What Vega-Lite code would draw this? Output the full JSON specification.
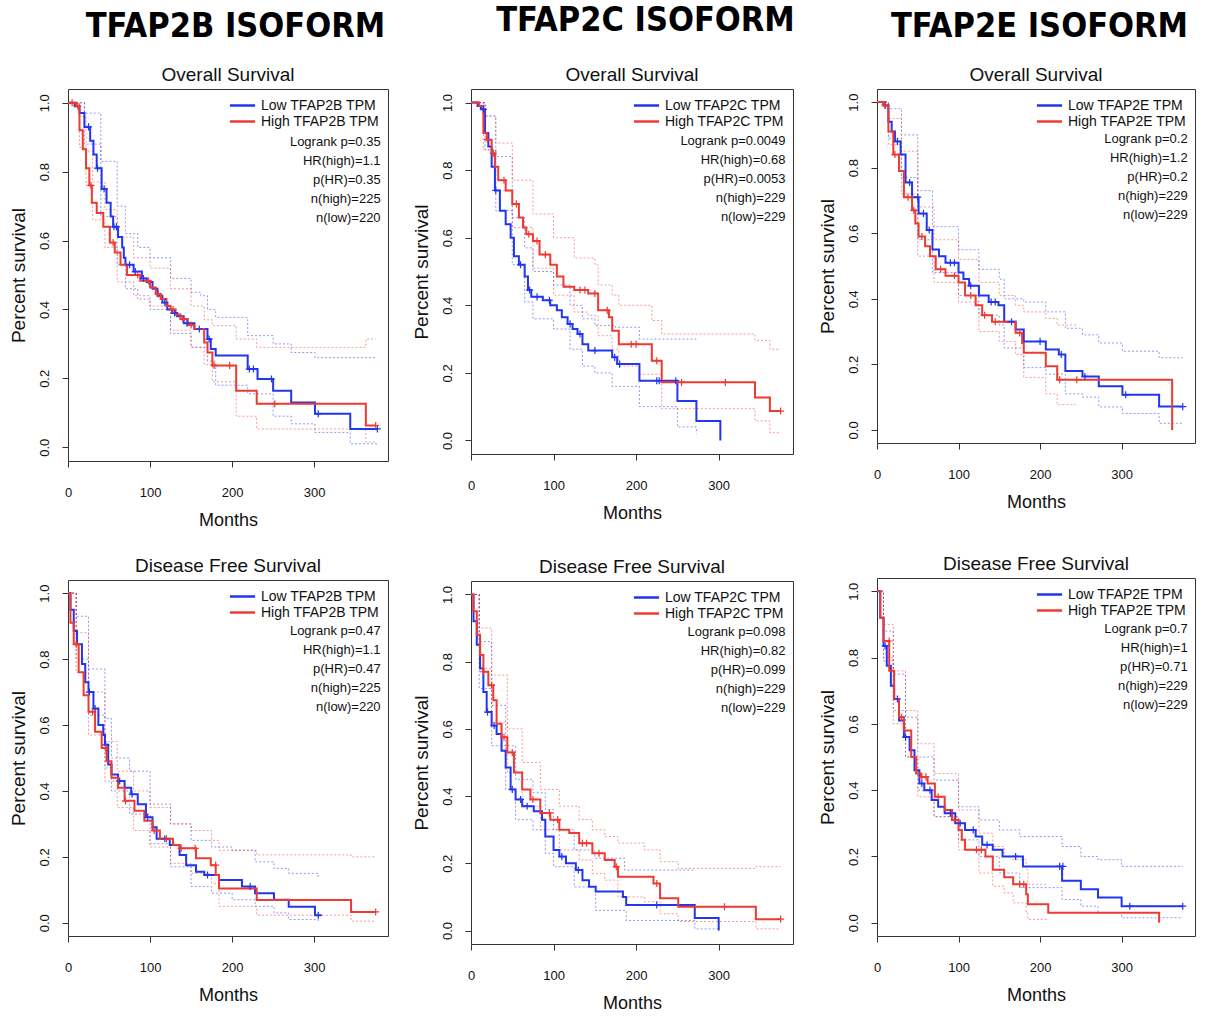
{
"$schema": "https://vega.github.io/schema/vega-lite/v6.json",
"background": "white",
"padding": {"top": 3, "left": 8, "right": 4, "bottom": 2},
"datasets": {
"km": [
{"p":"BO","g":"Low","k":"e","t":0,"s":1},{"p":"BO","g":"Low","k":"e","t":8,"s":0.99},{"p":"BO","g":"Low","k":"e","t":14,"s":0.97},{"p":"BO","g":"Low","k":"e","t":20,"s":0.93},{"p":"BO","g":"Low","k":"e","t":27,"s":0.89},{"p":"BO","g":"Low","k":"e","t":31,"s":0.85},{"p":"BO","g":"Low","k":"e","t":35,"s":0.81},{"p":"BO","g":"Low","k":"e","t":41,"s":0.75},{"p":"BO","g":"Low","k":"e","t":47,"s":0.71},{"p":"BO","g":"Low","k":"e","t":52,"s":0.67},{"p":"BO","g":"Low","k":"e","t":55,"s":0.64},{"p":"BO","g":"Low","k":"e","t":61,"s":0.61},{"p":"BO","g":"Low","k":"e","t":66,"s":0.58},{"p":"BO","g":"Low","k":"e","t":68,"s":0.55},{"p":"BO","g":"Low","k":"e","t":70,"s":0.53},{"p":"BO","g":"Low","k":"e","t":80,"s":0.51},{"p":"BO","g":"Low","k":"e","t":90,"s":0.49},{"p":"BO","g":"Low","k":"e","t":96,"s":0.48},{"p":"BO","g":"Low","k":"e","t":103,"s":0.46},{"p":"BO","g":"Low","k":"e","t":109,"s":0.44},{"p":"BO","g":"Low","k":"e","t":115,"s":0.42},{"p":"BO","g":"Low","k":"e","t":121,"s":0.40},{"p":"BO","g":"Low","k":"e","t":127,"s":0.39},{"p":"BO","g":"Low","k":"e","t":133,"s":0.38},{"p":"BO","g":"Low","k":"e","t":141,"s":0.36},{"p":"BO","g":"Low","k":"e","t":154,"s":0.343},{"p":"BO","g":"Low","k":"e","t":170,"s":0.314},{"p":"BO","g":"Low","k":"e","t":174,"s":0.285},{"p":"BO","g":"Low","k":"e","t":180,"s":0.266},{"p":"BO","g":"Low","k":"e","t":219,"s":0.227},{"p":"BO","g":"Low","k":"e","t":231,"s":0.198},{"p":"BO","g":"Low","k":"e","t":250,"s":0.164},{"p":"BO","g":"Low","k":"e","t":272,"s":0.13},{"p":"BO","g":"Low","k":"e","t":301,"s":0.097},{"p":"BO","g":"Low","k":"e","t":344,"s":0.053},{"p":"BO","g":"Low","k":"e","t":377,"s":0.053},
{"p":"BO","g":"High","k":"e","t":0,"s":1},{"p":"BO","g":"High","k":"e","t":10,"s":0.99},{"p":"BO","g":"High","k":"e","t":14,"s":0.92},{"p":"BO","g":"High","k":"e","t":18,"s":0.865},{"p":"BO","g":"High","k":"e","t":22,"s":0.81},{"p":"BO","g":"High","k":"e","t":26,"s":0.76},{"p":"BO","g":"High","k":"e","t":29,"s":0.71},{"p":"BO","g":"High","k":"e","t":35,"s":0.68},{"p":"BO","g":"High","k":"e","t":43,"s":0.64},{"p":"BO","g":"High","k":"e","t":51,"s":0.594},{"p":"BO","g":"High","k":"e","t":57,"s":0.565},{"p":"BO","g":"High","k":"e","t":64,"s":0.53},{"p":"BO","g":"High","k":"e","t":72,"s":0.50},{"p":"BO","g":"High","k":"e","t":88,"s":0.483},{"p":"BO","g":"High","k":"e","t":100,"s":0.464},{"p":"BO","g":"High","k":"e","t":107,"s":0.445},{"p":"BO","g":"High","k":"e","t":113,"s":0.43},{"p":"BO","g":"High","k":"e","t":120,"s":0.41},{"p":"BO","g":"High","k":"e","t":125,"s":0.40},{"p":"BO","g":"High","k":"e","t":131,"s":0.385},{"p":"BO","g":"High","k":"e","t":137,"s":0.372},{"p":"BO","g":"High","k":"e","t":146,"s":0.355},{"p":"BO","g":"High","k":"e","t":154,"s":0.343},{"p":"BO","g":"High","k":"e","t":166,"s":0.304},{"p":"BO","g":"High","k":"e","t":170,"s":0.275},{"p":"BO","g":"High","k":"e","t":176,"s":0.237},{"p":"BO","g":"High","k":"e","t":205,"s":0.164},{"p":"BO","g":"High","k":"e","t":230,"s":0.126},{"p":"BO","g":"High","k":"e","t":363,"s":0.063},{"p":"BO","g":"High","k":"e","t":375,"s":0.063},
{"p":"BO","g":"Low","k":"u","t":0,"s":1},{"p":"BO","g":"Low","k":"u","t":20,"s":0.97},{"p":"BO","g":"Low","k":"u","t":40,"s":0.83},{"p":"BO","g":"Low","k":"u","t":60,"s":0.70},{"p":"BO","g":"Low","k":"u","t":70,"s":0.62},{"p":"BO","g":"Low","k":"u","t":85,"s":0.58},{"p":"BO","g":"Low","k":"u","t":100,"s":0.55},{"p":"BO","g":"Low","k":"u","t":125,"s":0.49},{"p":"BO","g":"Low","k":"u","t":150,"s":0.45},{"p":"BO","g":"Low","k":"u","t":162,"s":0.44},{"p":"BO","g":"Low","k":"u","t":170,"s":0.40},{"p":"BO","g":"Low","k":"u","t":180,"s":0.377},{"p":"BO","g":"Low","k":"u","t":219,"s":0.324},{"p":"BO","g":"Low","k":"u","t":250,"s":0.30},{"p":"BO","g":"Low","k":"u","t":272,"s":0.275},{"p":"BO","g":"Low","k":"u","t":301,"s":0.26},{"p":"BO","g":"Low","k":"u","t":377,"s":0.26},
{"p":"BO","g":"Low","k":"l","t":0,"s":1},{"p":"BO","g":"Low","k":"l","t":20,"s":0.88},{"p":"BO","g":"Low","k":"l","t":40,"s":0.67},{"p":"BO","g":"Low","k":"l","t":60,"s":0.53},{"p":"BO","g":"Low","k":"l","t":70,"s":0.46},{"p":"BO","g":"Low","k":"l","t":85,"s":0.43},{"p":"BO","g":"Low","k":"l","t":100,"s":0.40},{"p":"BO","g":"Low","k":"l","t":125,"s":0.33},{"p":"BO","g":"Low","k":"l","t":150,"s":0.29},{"p":"BO","g":"Low","k":"l","t":170,"s":0.25},{"p":"BO","g":"Low","k":"l","t":180,"s":0.18},{"p":"BO","g":"Low","k":"l","t":219,"s":0.155},{"p":"BO","g":"Low","k":"l","t":250,"s":0.09},{"p":"BO","g":"Low","k":"l","t":272,"s":0.068},{"p":"BO","g":"Low","k":"l","t":301,"s":0.043},{"p":"BO","g":"Low","k":"l","t":344,"s":0.01},{"p":"BO","g":"Low","k":"l","t":377,"s":0.01},
{"p":"BO","g":"High","k":"u","t":0,"s":1},{"p":"BO","g":"High","k":"u","t":14,"s":0.96},{"p":"BO","g":"High","k":"u","t":22,"s":0.86},{"p":"BO","g":"High","k":"u","t":30,"s":0.77},{"p":"BO","g":"High","k":"u","t":45,"s":0.69},{"p":"BO","g":"High","k":"u","t":60,"s":0.61},{"p":"BO","g":"High","k":"u","t":80,"s":0.55},{"p":"BO","g":"High","k":"u","t":100,"s":0.52},{"p":"BO","g":"High","k":"u","t":125,"s":0.46},{"p":"BO","g":"High","k":"u","t":150,"s":0.41},{"p":"BO","g":"High","k":"u","t":166,"s":0.37},{"p":"BO","g":"High","k":"u","t":176,"s":0.353},{"p":"BO","g":"High","k":"u","t":205,"s":0.314},{"p":"BO","g":"High","k":"u","t":230,"s":0.29},{"p":"BO","g":"High","k":"u","t":363,"s":0.314},{"p":"BO","g":"High","k":"u","t":375,"s":0.314},
{"p":"BO","g":"High","k":"l","t":0,"s":1},{"p":"BO","g":"High","k":"l","t":14,"s":0.87},{"p":"BO","g":"High","k":"l","t":22,"s":0.76},{"p":"BO","g":"High","k":"l","t":30,"s":0.66},{"p":"BO","g":"High","k":"l","t":45,"s":0.58},{"p":"BO","g":"High","k":"l","t":60,"s":0.48},{"p":"BO","g":"High","k":"l","t":80,"s":0.44},{"p":"BO","g":"High","k":"l","t":100,"s":0.41},{"p":"BO","g":"High","k":"l","t":125,"s":0.34},{"p":"BO","g":"High","k":"l","t":150,"s":0.29},{"p":"BO","g":"High","k":"l","t":166,"s":0.24},{"p":"BO","g":"High","k":"l","t":176,"s":0.19},{"p":"BO","g":"High","k":"l","t":205,"s":0.09},{"p":"BO","g":"High","k":"l","t":230,"s":0.053},{"p":"BO","g":"High","k":"l","t":363,"s":0.015},{"p":"BO","g":"High","k":"l","t":375,"s":0.015},

{"p":"CO","g":"Low","k":"e","t":0,"s":1},{"p":"CO","g":"Low","k":"e","t":8,"s":0.99},{"p":"CO","g":"Low","k":"e","t":12,"s":0.98},{"p":"CO","g":"Low","k":"e","t":17,"s":0.91},{"p":"CO","g":"Low","k":"e","t":21,"s":0.87},{"p":"CO","g":"Low","k":"e","t":25,"s":0.81},{"p":"CO","g":"Low","k":"e","t":29,"s":0.74},{"p":"CO","g":"Low","k":"e","t":35,"s":0.68},{"p":"CO","g":"Low","k":"e","t":42,"s":0.64},{"p":"CO","g":"Low","k":"e","t":48,"s":0.60},{"p":"CO","g":"Low","k":"e","t":52,"s":0.545},{"p":"CO","g":"Low","k":"e","t":58,"s":0.52},{"p":"CO","g":"Low","k":"e","t":65,"s":0.485},{"p":"CO","g":"Low","k":"e","t":69,"s":0.445},{"p":"CO","g":"Low","k":"e","t":73,"s":0.425},{"p":"CO","g":"Low","k":"e","t":87,"s":0.415},{"p":"CO","g":"Low","k":"e","t":96,"s":0.40},{"p":"CO","g":"Low","k":"e","t":104,"s":0.385},{"p":"CO","g":"Low","k":"e","t":110,"s":0.365},{"p":"CO","g":"Low","k":"e","t":117,"s":0.345},{"p":"CO","g":"Low","k":"e","t":123,"s":0.33},{"p":"CO","g":"Low","k":"e","t":129,"s":0.315},{"p":"CO","g":"Low","k":"e","t":135,"s":0.285},{"p":"CO","g":"Low","k":"e","t":142,"s":0.266},{"p":"CO","g":"Low","k":"e","t":171,"s":0.246},{"p":"CO","g":"Low","k":"e","t":177,"s":0.226},{"p":"CO","g":"Low","k":"e","t":204,"s":0.177},{"p":"CO","g":"Low","k":"e","t":250,"s":0.117},{"p":"CO","g":"Low","k":"e","t":273,"s":0.058},{"p":"CO","g":"Low","k":"e","t":302,"s":0},
{"p":"CO","g":"High","k":"e","t":0,"s":1},{"p":"CO","g":"High","k":"e","t":10,"s":0.99},{"p":"CO","g":"High","k":"e","t":15,"s":0.91},{"p":"CO","g":"High","k":"e","t":19,"s":0.89},{"p":"CO","g":"High","k":"e","t":25,"s":0.85},{"p":"CO","g":"High","k":"e","t":29,"s":0.81},{"p":"CO","g":"High","k":"e","t":33,"s":0.77},{"p":"CO","g":"High","k":"e","t":42,"s":0.74},{"p":"CO","g":"High","k":"e","t":50,"s":0.70},{"p":"CO","g":"High","k":"e","t":58,"s":0.66},{"p":"CO","g":"High","k":"e","t":63,"s":0.63},{"p":"CO","g":"High","k":"e","t":67,"s":0.61},{"p":"CO","g":"High","k":"e","t":75,"s":0.59},{"p":"CO","g":"High","k":"e","t":83,"s":0.55},{"p":"CO","g":"High","k":"e","t":96,"s":0.52},{"p":"CO","g":"High","k":"e","t":104,"s":0.485},{"p":"CO","g":"High","k":"e","t":112,"s":0.455},{"p":"CO","g":"High","k":"e","t":125,"s":0.445},{"p":"CO","g":"High","k":"e","t":142,"s":0.435},{"p":"CO","g":"High","k":"e","t":154,"s":0.385},{"p":"CO","g":"High","k":"e","t":167,"s":0.365},{"p":"CO","g":"High","k":"e","t":171,"s":0.325},{"p":"CO","g":"High","k":"e","t":179,"s":0.285},{"p":"CO","g":"High","k":"e","t":219,"s":0.236},{"p":"CO","g":"High","k":"e","t":231,"s":0.172},{"p":"CO","g":"High","k":"e","t":344,"s":0.127},{"p":"CO","g":"High","k":"e","t":362,"s":0.087},{"p":"CO","g":"High","k":"e","t":375,"s":0.087},
{"p":"CO","g":"Low","k":"u","t":0,"s":1},{"p":"CO","g":"Low","k":"u","t":17,"s":0.96},{"p":"CO","g":"Low","k":"u","t":30,"s":0.84},{"p":"CO","g":"Low","k":"u","t":50,"s":0.66},{"p":"CO","g":"Low","k":"u","t":65,"s":0.57},{"p":"CO","g":"Low","k":"u","t":75,"s":0.50},{"p":"CO","g":"Low","k":"u","t":100,"s":0.46},{"p":"CO","g":"Low","k":"u","t":120,"s":0.40},{"p":"CO","g":"Low","k":"u","t":135,"s":0.36},{"p":"CO","g":"Low","k":"u","t":150,"s":0.34},{"p":"CO","g":"Low","k":"u","t":175,"s":0.335},{"p":"CO","g":"Low","k":"u","t":204,"s":0.30},{"p":"CO","g":"Low","k":"u","t":273,"s":0.30},
{"p":"CO","g":"Low","k":"l","t":0,"s":1},{"p":"CO","g":"Low","k":"l","t":17,"s":0.86},{"p":"CO","g":"Low","k":"l","t":30,"s":0.68},{"p":"CO","g":"Low","k":"l","t":50,"s":0.52},{"p":"CO","g":"Low","k":"l","t":65,"s":0.41},{"p":"CO","g":"Low","k":"l","t":75,"s":0.36},{"p":"CO","g":"Low","k":"l","t":100,"s":0.33},{"p":"CO","g":"Low","k":"l","t":120,"s":0.27},{"p":"CO","g":"Low","k":"l","t":135,"s":0.22},{"p":"CO","g":"Low","k":"l","t":150,"s":0.20},{"p":"CO","g":"Low","k":"l","t":171,"s":0.16},{"p":"CO","g":"Low","k":"l","t":204,"s":0.10},{"p":"CO","g":"Low","k":"l","t":250,"s":0.04},{"p":"CO","g":"Low","k":"l","t":273,"s":0.02},
{"p":"CO","g":"High","k":"u","t":0,"s":1},{"p":"CO","g":"High","k":"u","t":15,"s":0.96},{"p":"CO","g":"High","k":"u","t":30,"s":0.88},{"p":"CO","g":"High","k":"u","t":50,"s":0.77},{"p":"CO","g":"High","k":"u","t":75,"s":0.67},{"p":"CO","g":"High","k":"u","t":100,"s":0.60},{"p":"CO","g":"High","k":"u","t":125,"s":0.54},{"p":"CO","g":"High","k":"u","t":150,"s":0.52},{"p":"CO","g":"High","k":"u","t":154,"s":0.46},{"p":"CO","g":"High","k":"u","t":171,"s":0.43},{"p":"CO","g":"High","k":"u","t":179,"s":0.40},{"p":"CO","g":"High","k":"u","t":219,"s":0.355},{"p":"CO","g":"High","k":"u","t":231,"s":0.315},{"p":"CO","g":"High","k":"u","t":344,"s":0.296},{"p":"CO","g":"High","k":"u","t":362,"s":0.27},{"p":"CO","g":"High","k":"u","t":375,"s":0.27},
{"p":"CO","g":"High","k":"l","t":0,"s":1},{"p":"CO","g":"High","k":"l","t":15,"s":0.86},{"p":"CO","g":"High","k":"l","t":30,"s":0.74},{"p":"CO","g":"High","k":"l","t":50,"s":0.63},{"p":"CO","g":"High","k":"l","t":75,"s":0.51},{"p":"CO","g":"High","k":"l","t":100,"s":0.43},{"p":"CO","g":"High","k":"l","t":125,"s":0.38},{"p":"CO","g":"High","k":"l","t":142,"s":0.37},{"p":"CO","g":"High","k":"l","t":154,"s":0.31},{"p":"CO","g":"High","k":"l","t":171,"s":0.27},{"p":"CO","g":"High","k":"l","t":179,"s":0.22},{"p":"CO","g":"High","k":"l","t":204,"s":0.196},{"p":"CO","g":"High","k":"l","t":231,"s":0.094},{"p":"CO","g":"High","k":"l","t":344,"s":0.058},{"p":"CO","g":"High","k":"l","t":362,"s":0.023},{"p":"CO","g":"High","k":"l","t":375,"s":0.023},

{"p":"EO","g":"Low","k":"e","t":0,"s":1},{"p":"EO","g":"Low","k":"e","t":8,"s":0.99},{"p":"EO","g":"Low","k":"e","t":14,"s":0.94},{"p":"EO","g":"Low","k":"e","t":18,"s":0.91},{"p":"EO","g":"Low","k":"e","t":22,"s":0.88},{"p":"EO","g":"Low","k":"e","t":29,"s":0.84},{"p":"EO","g":"Low","k":"e","t":35,"s":0.755},{"p":"EO","g":"Low","k":"e","t":43,"s":0.71},{"p":"EO","g":"Low","k":"e","t":51,"s":0.66},{"p":"EO","g":"Low","k":"e","t":61,"s":0.61},{"p":"EO","g":"Low","k":"e","t":68,"s":0.55},{"p":"EO","g":"Low","k":"e","t":76,"s":0.53},{"p":"EO","g":"Low","k":"e","t":84,"s":0.51},{"p":"EO","g":"Low","k":"e","t":100,"s":0.48},{"p":"EO","g":"Low","k":"e","t":106,"s":0.46},{"p":"EO","g":"Low","k":"e","t":113,"s":0.44},{"p":"EO","g":"Low","k":"e","t":125,"s":0.41},{"p":"EO","g":"Low","k":"e","t":137,"s":0.39},{"p":"EO","g":"Low","k":"e","t":149,"s":0.38},{"p":"EO","g":"Low","k":"e","t":156,"s":0.33},{"p":"EO","g":"Low","k":"e","t":170,"s":0.306},{"p":"EO","g":"Low","k":"e","t":180,"s":0.27},{"p":"EO","g":"Low","k":"e","t":207,"s":0.245},{"p":"EO","g":"Low","k":"e","t":223,"s":0.23},{"p":"EO","g":"Low","k":"e","t":231,"s":0.18},{"p":"EO","g":"Low","k":"e","t":252,"s":0.163},{"p":"EO","g":"Low","k":"e","t":272,"s":0.133},{"p":"EO","g":"Low","k":"e","t":301,"s":0.107},{"p":"EO","g":"Low","k":"e","t":346,"s":0.071},{"p":"EO","g":"Low","k":"e","t":375,"s":0.071},
{"p":"EO","g":"High","k":"e","t":0,"s":1},{"p":"EO","g":"High","k":"e","t":8,"s":0.99},{"p":"EO","g":"High","k":"e","t":14,"s":0.91},{"p":"EO","g":"High","k":"e","t":20,"s":0.84},{"p":"EO","g":"High","k":"e","t":27,"s":0.79},{"p":"EO","g":"High","k":"e","t":33,"s":0.71},{"p":"EO","g":"High","k":"e","t":43,"s":0.67},{"p":"EO","g":"High","k":"e","t":47,"s":0.63},{"p":"EO","g":"High","k":"e","t":51,"s":0.59},{"p":"EO","g":"High","k":"e","t":59,"s":0.56},{"p":"EO","g":"High","k":"e","t":65,"s":0.53},{"p":"EO","g":"High","k":"e","t":72,"s":0.49},{"p":"EO","g":"High","k":"e","t":84,"s":0.47},{"p":"EO","g":"High","k":"e","t":100,"s":0.45},{"p":"EO","g":"High","k":"e","t":108,"s":0.41},{"p":"EO","g":"High","k":"e","t":121,"s":0.38},{"p":"EO","g":"High","k":"e","t":129,"s":0.35},{"p":"EO","g":"High","k":"e","t":141,"s":0.33},{"p":"EO","g":"High","k":"e","t":170,"s":0.296},{"p":"EO","g":"High","k":"e","t":178,"s":0.265},{"p":"EO","g":"High","k":"e","t":180,"s":0.235},{"p":"EO","g":"High","k":"e","t":207,"s":0.194},{"p":"EO","g":"High","k":"e","t":221,"s":0.153},{"p":"EO","g":"High","k":"e","t":362,"s":0},
{"p":"EO","g":"Low","k":"u","t":0,"s":1},{"p":"EO","g":"Low","k":"u","t":14,"s":0.98},{"p":"EO","g":"Low","k":"u","t":30,"s":0.90},{"p":"EO","g":"Low","k":"u","t":50,"s":0.73},{"p":"EO","g":"Low","k":"u","t":68,"s":0.62},{"p":"EO","g":"Low","k":"u","t":100,"s":0.55},{"p":"EO","g":"Low","k":"u","t":125,"s":0.49},{"p":"EO","g":"Low","k":"u","t":150,"s":0.46},{"p":"EO","g":"Low","k":"u","t":156,"s":0.40},{"p":"EO","g":"Low","k":"u","t":180,"s":0.39},{"p":"EO","g":"Low","k":"u","t":207,"s":0.36},{"p":"EO","g":"Low","k":"u","t":231,"s":0.31},{"p":"EO","g":"Low","k":"u","t":252,"s":0.29},{"p":"EO","g":"Low","k":"u","t":272,"s":0.265},{"p":"EO","g":"Low","k":"u","t":301,"s":0.24},{"p":"EO","g":"Low","k":"u","t":346,"s":0.22},{"p":"EO","g":"Low","k":"u","t":375,"s":0.22},
{"p":"EO","g":"Low","k":"l","t":0,"s":1},{"p":"EO","g":"Low","k":"l","t":14,"s":0.89},{"p":"EO","g":"Low","k":"l","t":30,"s":0.77},{"p":"EO","g":"Low","k":"l","t":50,"s":0.58},{"p":"EO","g":"Low","k":"l","t":68,"s":0.48},{"p":"EO","g":"Low","k":"l","t":100,"s":0.41},{"p":"EO","g":"Low","k":"l","t":125,"s":0.35},{"p":"EO","g":"Low","k":"l","t":150,"s":0.32},{"p":"EO","g":"Low","k":"l","t":156,"s":0.25},{"p":"EO","g":"Low","k":"l","t":180,"s":0.19},{"p":"EO","g":"Low","k":"l","t":207,"s":0.17},{"p":"EO","g":"Low","k":"l","t":231,"s":0.11},{"p":"EO","g":"Low","k":"l","t":252,"s":0.10},{"p":"EO","g":"Low","k":"l","t":272,"s":0.07},{"p":"EO","g":"Low","k":"l","t":301,"s":0.05},{"p":"EO","g":"Low","k":"l","t":346,"s":0.02},{"p":"EO","g":"Low","k":"l","t":375,"s":0.02},
{"p":"EO","g":"High","k":"u","t":0,"s":1},{"p":"EO","g":"High","k":"u","t":14,"s":0.95},{"p":"EO","g":"High","k":"u","t":30,"s":0.85},{"p":"EO","g":"High","k":"u","t":50,"s":0.68},{"p":"EO","g":"High","k":"u","t":70,"s":0.58},{"p":"EO","g":"High","k":"u","t":100,"s":0.52},{"p":"EO","g":"High","k":"u","t":125,"s":0.45},{"p":"EO","g":"High","k":"u","t":150,"s":0.41},{"p":"EO","g":"High","k":"u","t":170,"s":0.38},{"p":"EO","g":"High","k":"u","t":180,"s":0.36},{"p":"EO","g":"High","k":"u","t":207,"s":0.34},{"p":"EO","g":"High","k":"u","t":221,"s":0.32},{"p":"EO","g":"High","k":"u","t":244,"s":0.32},
{"p":"EO","g":"High","k":"l","t":0,"s":1},{"p":"EO","g":"High","k":"l","t":14,"s":0.87},{"p":"EO","g":"High","k":"l","t":30,"s":0.72},{"p":"EO","g":"High","k":"l","t":50,"s":0.53},{"p":"EO","g":"High","k":"l","t":70,"s":0.45},{"p":"EO","g":"High","k":"l","t":100,"s":0.39},{"p":"EO","g":"High","k":"l","t":125,"s":0.30},{"p":"EO","g":"High","k":"l","t":150,"s":0.27},{"p":"EO","g":"High","k":"l","t":170,"s":0.23},{"p":"EO","g":"High","k":"l","t":180,"s":0.16},{"p":"EO","g":"High","k":"l","t":207,"s":0.11},{"p":"EO","g":"High","k":"l","t":221,"s":0.077},{"p":"EO","g":"High","k":"l","t":244,"s":0.077},

{"p":"BD","g":"Low","k":"e","t":0,"s":1},{"p":"BD","g":"Low","k":"e","t":3,"s":0.95},{"p":"BD","g":"Low","k":"e","t":7,"s":0.885},{"p":"BD","g":"Low","k":"e","t":11,"s":0.845},{"p":"BD","g":"Low","k":"e","t":17,"s":0.785},{"p":"BD","g":"Low","k":"e","t":21,"s":0.73},{"p":"BD","g":"Low","k":"e","t":25,"s":0.70},{"p":"BD","g":"Low","k":"e","t":31,"s":0.65},{"p":"BD","g":"Low","k":"e","t":37,"s":0.60},{"p":"BD","g":"Low","k":"e","t":43,"s":0.57},{"p":"BD","g":"Low","k":"e","t":45,"s":0.54},{"p":"BD","g":"Low","k":"e","t":49,"s":0.48},{"p":"BD","g":"Low","k":"e","t":53,"s":0.45},{"p":"BD","g":"Low","k":"e","t":61,"s":0.43},{"p":"BD","g":"Low","k":"e","t":69,"s":0.41},{"p":"BD","g":"Low","k":"e","t":77,"s":0.39},{"p":"BD","g":"Low","k":"e","t":85,"s":0.36},{"p":"BD","g":"Low","k":"e","t":95,"s":0.32},{"p":"BD","g":"Low","k":"e","t":103,"s":0.29},{"p":"BD","g":"Low","k":"e","t":108,"s":0.255},{"p":"BD","g":"Low","k":"e","t":124,"s":0.236},{"p":"BD","g":"Low","k":"e","t":136,"s":0.206},{"p":"BD","g":"Low","k":"e","t":144,"s":0.175},{"p":"BD","g":"Low","k":"e","t":156,"s":0.155},{"p":"BD","g":"Low","k":"e","t":166,"s":0.145},{"p":"BD","g":"Low","k":"e","t":184,"s":0.13},{"p":"BD","g":"Low","k":"e","t":212,"s":0.11},{"p":"BD","g":"Low","k":"e","t":228,"s":0.09},{"p":"BD","g":"Low","k":"e","t":251,"s":0.07},{"p":"BD","g":"Low","k":"e","t":269,"s":0.049},{"p":"BD","g":"Low","k":"e","t":301,"s":0.023},{"p":"BD","g":"Low","k":"e","t":309,"s":0.023},
{"p":"BD","g":"High","k":"e","t":0,"s":1},{"p":"BD","g":"High","k":"e","t":3,"s":0.91},{"p":"BD","g":"High","k":"e","t":7,"s":0.845},{"p":"BD","g":"High","k":"e","t":13,"s":0.76},{"p":"BD","g":"High","k":"e","t":19,"s":0.69},{"p":"BD","g":"High","k":"e","t":25,"s":0.64},{"p":"BD","g":"High","k":"e","t":33,"s":0.58},{"p":"BD","g":"High","k":"e","t":41,"s":0.53},{"p":"BD","g":"High","k":"e","t":47,"s":0.49},{"p":"BD","g":"High","k":"e","t":53,"s":0.44},{"p":"BD","g":"High","k":"e","t":61,"s":0.41},{"p":"BD","g":"High","k":"e","t":69,"s":0.37},{"p":"BD","g":"High","k":"e","t":81,"s":0.34},{"p":"BD","g":"High","k":"e","t":93,"s":0.31},{"p":"BD","g":"High","k":"e","t":103,"s":0.28},{"p":"BD","g":"High","k":"e","t":112,"s":0.255},{"p":"BD","g":"High","k":"e","t":128,"s":0.236},{"p":"BD","g":"High","k":"e","t":136,"s":0.226},{"p":"BD","g":"High","k":"e","t":156,"s":0.196},{"p":"BD","g":"High","k":"e","t":174,"s":0.175},{"p":"BD","g":"High","k":"e","t":180,"s":0.145},{"p":"BD","g":"High","k":"e","t":184,"s":0.104},{"p":"BD","g":"High","k":"e","t":230,"s":0.069},{"p":"BD","g":"High","k":"e","t":345,"s":0.033},{"p":"BD","g":"High","k":"e","t":375,"s":0.033},
{"p":"BD","g":"Low","k":"u","t":0,"s":1},{"p":"BD","g":"Low","k":"u","t":10,"s":0.93},{"p":"BD","g":"Low","k":"u","t":25,"s":0.77},{"p":"BD","g":"Low","k":"u","t":45,"s":0.62},{"p":"BD","g":"Low","k":"u","t":53,"s":0.50},{"p":"BD","g":"Low","k":"u","t":75,"s":0.46},{"p":"BD","g":"Low","k":"u","t":100,"s":0.36},{"p":"BD","g":"Low","k":"u","t":125,"s":0.30},{"p":"BD","g":"Low","k":"u","t":150,"s":0.25},{"p":"BD","g":"Low","k":"u","t":175,"s":0.23},{"p":"BD","g":"Low","k":"u","t":200,"s":0.22},{"p":"BD","g":"Low","k":"u","t":228,"s":0.185},{"p":"BD","g":"Low","k":"u","t":251,"s":0.165},{"p":"BD","g":"Low","k":"u","t":269,"s":0.15},{"p":"BD","g":"Low","k":"u","t":305,"s":0.14},
{"p":"BD","g":"Low","k":"l","t":0,"s":1},{"p":"BD","g":"Low","k":"l","t":10,"s":0.80},{"p":"BD","g":"Low","k":"l","t":25,"s":0.63},{"p":"BD","g":"Low","k":"l","t":45,"s":0.47},{"p":"BD","g":"Low","k":"l","t":53,"s":0.40},{"p":"BD","g":"Low","k":"l","t":75,"s":0.33},{"p":"BD","g":"Low","k":"l","t":100,"s":0.24},{"p":"BD","g":"Low","k":"l","t":125,"s":0.17},{"p":"BD","g":"Low","k":"l","t":150,"s":0.11},{"p":"BD","g":"Low","k":"l","t":175,"s":0.09},{"p":"BD","g":"Low","k":"l","t":200,"s":0.07},{"p":"BD","g":"Low","k":"l","t":228,"s":0.05},{"p":"BD","g":"Low","k":"l","t":251,"s":0.03},{"p":"BD","g":"Low","k":"l","t":269,"s":0.01},{"p":"BD","g":"Low","k":"l","t":305,"s":0.005},
{"p":"BD","g":"High","k":"u","t":0,"s":1},{"p":"BD","g":"High","k":"u","t":10,"s":0.88},{"p":"BD","g":"High","k":"u","t":25,"s":0.70},{"p":"BD","g":"High","k":"u","t":45,"s":0.55},{"p":"BD","g":"High","k":"u","t":60,"s":0.46},{"p":"BD","g":"High","k":"u","t":80,"s":0.40},{"p":"BD","g":"High","k":"u","t":100,"s":0.35},{"p":"BD","g":"High","k":"u","t":125,"s":0.30},{"p":"BD","g":"High","k":"u","t":150,"s":0.28},{"p":"BD","g":"High","k":"u","t":175,"s":0.25},{"p":"BD","g":"High","k":"u","t":184,"s":0.22},{"p":"BD","g":"High","k":"u","t":230,"s":0.206},{"p":"BD","g":"High","k":"u","t":345,"s":0.20},{"p":"BD","g":"High","k":"u","t":375,"s":0.20},
{"p":"BD","g":"High","k":"l","t":0,"s":1},{"p":"BD","g":"High","k":"l","t":10,"s":0.76},{"p":"BD","g":"High","k":"l","t":25,"s":0.57},{"p":"BD","g":"High","k":"l","t":45,"s":0.43},{"p":"BD","g":"High","k":"l","t":60,"s":0.35},{"p":"BD","g":"High","k":"l","t":80,"s":0.28},{"p":"BD","g":"High","k":"l","t":100,"s":0.23},{"p":"BD","g":"High","k":"l","t":125,"s":0.18},{"p":"BD","g":"High","k":"l","t":150,"s":0.15},{"p":"BD","g":"High","k":"l","t":175,"s":0.12},{"p":"BD","g":"High","k":"l","t":184,"s":0.05},{"p":"BD","g":"High","k":"l","t":230,"s":0.023},{"p":"BD","g":"High","k":"l","t":345,"s":0.005},{"p":"BD","g":"High","k":"l","t":375,"s":0.005},

{"p":"CD","g":"Low","k":"e","t":0,"s":1},{"p":"CD","g":"Low","k":"e","t":3,"s":0.92},{"p":"CD","g":"Low","k":"e","t":7,"s":0.85},{"p":"CD","g":"Low","k":"e","t":11,"s":0.78},{"p":"CD","g":"Low","k":"e","t":15,"s":0.71},{"p":"CD","g":"Low","k":"e","t":19,"s":0.65},{"p":"CD","g":"Low","k":"e","t":25,"s":0.61},{"p":"CD","g":"Low","k":"e","t":31,"s":0.585},{"p":"CD","g":"Low","k":"e","t":37,"s":0.535},{"p":"CD","g":"Low","k":"e","t":42,"s":0.485},{"p":"CD","g":"Low","k":"e","t":48,"s":0.42},{"p":"CD","g":"Low","k":"e","t":54,"s":0.39},{"p":"CD","g":"Low","k":"e","t":62,"s":0.37},{"p":"CD","g":"Low","k":"e","t":76,"s":0.355},{"p":"CD","g":"Low","k":"e","t":86,"s":0.33},{"p":"CD","g":"Low","k":"e","t":90,"s":0.28},{"p":"CD","g":"Low","k":"e","t":100,"s":0.24},{"p":"CD","g":"Low","k":"e","t":107,"s":0.22},{"p":"CD","g":"Low","k":"e","t":115,"s":0.20},{"p":"CD","g":"Low","k":"e","t":127,"s":0.18},{"p":"CD","g":"Low","k":"e","t":135,"s":0.15},{"p":"CD","g":"Low","k":"e","t":143,"s":0.13},{"p":"CD","g":"Low","k":"e","t":151,"s":0.116},{"p":"CD","g":"Low","k":"e","t":184,"s":0.10},{"p":"CD","g":"Low","k":"e","t":188,"s":0.076},{"p":"CD","g":"Low","k":"e","t":271,"s":0.037},{"p":"CD","g":"Low","k":"e","t":300,"s":0},
{"p":"CD","g":"High","k":"e","t":0,"s":1},{"p":"CD","g":"High","k":"e","t":3,"s":0.95},{"p":"CD","g":"High","k":"e","t":7,"s":0.88},{"p":"CD","g":"High","k":"e","t":11,"s":0.82},{"p":"CD","g":"High","k":"e","t":15,"s":0.77},{"p":"CD","g":"High","k":"e","t":21,"s":0.73},{"p":"CD","g":"High","k":"e","t":27,"s":0.685},{"p":"CD","g":"High","k":"e","t":31,"s":0.615},{"p":"CD","g":"High","k":"e","t":37,"s":0.575},{"p":"CD","g":"High","k":"e","t":44,"s":0.53},{"p":"CD","g":"High","k":"e","t":52,"s":0.47},{"p":"CD","g":"High","k":"e","t":62,"s":0.42},{"p":"CD","g":"High","k":"e","t":72,"s":0.39},{"p":"CD","g":"High","k":"e","t":84,"s":0.35},{"p":"CD","g":"High","k":"e","t":96,"s":0.33},{"p":"CD","g":"High","k":"e","t":107,"s":0.30},{"p":"CD","g":"High","k":"e","t":119,"s":0.29},{"p":"CD","g":"High","k":"e","t":131,"s":0.26},{"p":"CD","g":"High","k":"e","t":147,"s":0.23},{"p":"CD","g":"High","k":"e","t":162,"s":0.21},{"p":"CD","g":"High","k":"e","t":174,"s":0.19},{"p":"CD","g":"High","k":"e","t":178,"s":0.16},{"p":"CD","g":"High","k":"e","t":221,"s":0.14},{"p":"CD","g":"High","k":"e","t":229,"s":0.096},{"p":"CD","g":"High","k":"e","t":251,"s":0.071},{"p":"CD","g":"High","k":"e","t":345,"s":0.034},{"p":"CD","g":"High","k":"e","t":375,"s":0.034},
{"p":"CD","g":"Low","k":"u","t":0,"s":1},{"p":"CD","g":"Low","k":"u","t":10,"s":0.86},{"p":"CD","g":"Low","k":"u","t":25,"s":0.67},{"p":"CD","g":"Low","k":"u","t":42,"s":0.55},{"p":"CD","g":"Low","k":"u","t":54,"s":0.45},{"p":"CD","g":"Low","k":"u","t":75,"s":0.41},{"p":"CD","g":"Low","k":"u","t":90,"s":0.36},{"p":"CD","g":"Low","k":"u","t":100,"s":0.30},{"p":"CD","g":"Low","k":"u","t":125,"s":0.24},{"p":"CD","g":"Low","k":"u","t":150,"s":0.215},{"p":"CD","g":"Low","k":"u","t":186,"s":0.18},{"p":"CD","g":"Low","k":"u","t":271,"s":0.18},
{"p":"CD","g":"Low","k":"l","t":0,"s":1},{"p":"CD","g":"Low","k":"l","t":10,"s":0.72},{"p":"CD","g":"Low","k":"l","t":25,"s":0.55},{"p":"CD","g":"Low","k":"l","t":42,"s":0.42},{"p":"CD","g":"Low","k":"l","t":54,"s":0.33},{"p":"CD","g":"Low","k":"l","t":75,"s":0.30},{"p":"CD","g":"Low","k":"l","t":90,"s":0.23},{"p":"CD","g":"Low","k":"l","t":100,"s":0.19},{"p":"CD","g":"Low","k":"l","t":125,"s":0.13},{"p":"CD","g":"Low","k":"l","t":151,"s":0.06},{"p":"CD","g":"Low","k":"l","t":188,"s":0.03},{"p":"CD","g":"Low","k":"l","t":271,"s":0.005},{"p":"CD","g":"Low","k":"l","t":300,"s":0.005},
{"p":"CD","g":"High","k":"u","t":0,"s":1},{"p":"CD","g":"High","k":"u","t":10,"s":0.90},{"p":"CD","g":"High","k":"u","t":25,"s":0.76},{"p":"CD","g":"High","k":"u","t":44,"s":0.60},{"p":"CD","g":"High","k":"u","t":62,"s":0.50},{"p":"CD","g":"High","k":"u","t":84,"s":0.42},{"p":"CD","g":"High","k":"u","t":107,"s":0.37},{"p":"CD","g":"High","k":"u","t":131,"s":0.33},{"p":"CD","g":"High","k":"u","t":147,"s":0.30},{"p":"CD","g":"High","k":"u","t":162,"s":0.28},{"p":"CD","g":"High","k":"u","t":178,"s":0.26},{"p":"CD","g":"High","k":"u","t":210,"s":0.24},{"p":"CD","g":"High","k":"u","t":229,"s":0.205},{"p":"CD","g":"High","k":"u","t":251,"s":0.185},{"p":"CD","g":"High","k":"u","t":345,"s":0.19},{"p":"CD","g":"High","k":"u","t":375,"s":0.19},
{"p":"CD","g":"High","k":"l","t":0,"s":1},{"p":"CD","g":"High","k":"l","t":10,"s":0.78},{"p":"CD","g":"High","k":"l","t":25,"s":0.62},{"p":"CD","g":"High","k":"l","t":44,"s":0.47},{"p":"CD","g":"High","k":"l","t":62,"s":0.37},{"p":"CD","g":"High","k":"l","t":84,"s":0.30},{"p":"CD","g":"High","k":"l","t":107,"s":0.24},{"p":"CD","g":"High","k":"l","t":131,"s":0.21},{"p":"CD","g":"High","k":"l","t":147,"s":0.17},{"p":"CD","g":"High","k":"l","t":162,"s":0.15},{"p":"CD","g":"High","k":"l","t":178,"s":0.10},{"p":"CD","g":"High","k":"l","t":210,"s":0.086},{"p":"CD","g":"High","k":"l","t":229,"s":0.05},{"p":"CD","g":"High","k":"l","t":251,"s":0.027},{"p":"CD","g":"High","k":"l","t":345,"s":0.005},{"p":"CD","g":"High","k":"l","t":375,"s":0.005},

{"p":"ED","g":"Low","k":"e","t":0,"s":1},{"p":"ED","g":"Low","k":"e","t":4,"s":0.92},{"p":"ED","g":"Low","k":"e","t":8,"s":0.835},{"p":"ED","g":"Low","k":"e","t":12,"s":0.775},{"p":"ED","g":"Low","k":"e","t":17,"s":0.715},{"p":"ED","g":"Low","k":"e","t":21,"s":0.675},{"p":"ED","g":"Low","k":"e","t":27,"s":0.61},{"p":"ED","g":"Low","k":"e","t":33,"s":0.56},{"p":"ED","g":"Low","k":"e","t":40,"s":0.52},{"p":"ED","g":"Low","k":"e","t":46,"s":0.46},{"p":"ED","g":"Low","k":"e","t":52,"s":0.42},{"p":"ED","g":"Low","k":"e","t":58,"s":0.40},{"p":"ED","g":"Low","k":"e","t":67,"s":0.37},{"p":"ED","g":"Low","k":"e","t":75,"s":0.35},{"p":"ED","g":"Low","k":"e","t":83,"s":0.33},{"p":"ED","g":"Low","k":"e","t":96,"s":0.30},{"p":"ED","g":"Low","k":"e","t":108,"s":0.28},{"p":"ED","g":"Low","k":"e","t":121,"s":0.26},{"p":"ED","g":"Low","k":"e","t":129,"s":0.235},{"p":"ED","g":"Low","k":"e","t":142,"s":0.22},{"p":"ED","g":"Low","k":"e","t":154,"s":0.20},{"p":"ED","g":"Low","k":"e","t":179,"s":0.17},{"p":"ED","g":"Low","k":"e","t":227,"s":0.127},{"p":"ED","g":"Low","k":"e","t":250,"s":0.101},{"p":"ED","g":"Low","k":"e","t":271,"s":0.076},{"p":"ED","g":"Low","k":"e","t":300,"s":0.05},{"p":"ED","g":"Low","k":"e","t":375,"s":0.05},
{"p":"ED","g":"High","k":"e","t":0,"s":1},{"p":"ED","g":"High","k":"e","t":4,"s":0.92},{"p":"ED","g":"High","k":"e","t":8,"s":0.85},{"p":"ED","g":"High","k":"e","t":15,"s":0.76},{"p":"ED","g":"High","k":"e","t":21,"s":0.675},{"p":"ED","g":"High","k":"e","t":27,"s":0.62},{"p":"ED","g":"High","k":"e","t":33,"s":0.58},{"p":"ED","g":"High","k":"e","t":42,"s":0.50},{"p":"ED","g":"High","k":"e","t":48,"s":0.45},{"p":"ED","g":"High","k":"e","t":54,"s":0.44},{"p":"ED","g":"High","k":"e","t":62,"s":0.42},{"p":"ED","g":"High","k":"e","t":71,"s":0.38},{"p":"ED","g":"High","k":"e","t":83,"s":0.34},{"p":"ED","g":"High","k":"e","t":92,"s":0.31},{"p":"ED","g":"High","k":"e","t":100,"s":0.28},{"p":"ED","g":"High","k":"e","t":104,"s":0.25},{"p":"ED","g":"High","k":"e","t":108,"s":0.22},{"p":"ED","g":"High","k":"e","t":133,"s":0.20},{"p":"ED","g":"High","k":"e","t":142,"s":0.16},{"p":"ED","g":"High","k":"e","t":156,"s":0.137},{"p":"ED","g":"High","k":"e","t":167,"s":0.116},{"p":"ED","g":"High","k":"e","t":183,"s":0.086},{"p":"ED","g":"High","k":"e","t":185,"s":0.056},{"p":"ED","g":"High","k":"e","t":210,"s":0.03},{"p":"ED","g":"High","k":"e","t":346,"s":0},
{"p":"ED","g":"Low","k":"u","t":0,"s":1},{"p":"ED","g":"Low","k":"u","t":8,"s":0.88},{"p":"ED","g":"Low","k":"u","t":20,"s":0.75},{"p":"ED","g":"Low","k":"u","t":35,"s":0.62},{"p":"ED","g":"Low","k":"u","t":50,"s":0.50},{"p":"ED","g":"Low","k":"u","t":70,"s":0.43},{"p":"ED","g":"Low","k":"u","t":100,"s":0.35},{"p":"ED","g":"Low","k":"u","t":125,"s":0.31},{"p":"ED","g":"Low","k":"u","t":150,"s":0.28},{"p":"ED","g":"Low","k":"u","t":175,"s":0.26},{"p":"ED","g":"Low","k":"u","t":227,"s":0.23},{"p":"ED","g":"Low","k":"u","t":250,"s":0.20},{"p":"ED","g":"Low","k":"u","t":271,"s":0.19},{"p":"ED","g":"Low","k":"u","t":300,"s":0.17},{"p":"ED","g":"Low","k":"u","t":375,"s":0.17},
{"p":"ED","g":"Low","k":"l","t":0,"s":1},{"p":"ED","g":"Low","k":"l","t":8,"s":0.79},{"p":"ED","g":"Low","k":"l","t":20,"s":0.64},{"p":"ED","g":"Low","k":"l","t":35,"s":0.50},{"p":"ED","g":"Low","k":"l","t":50,"s":0.40},{"p":"ED","g":"Low","k":"l","t":70,"s":0.32},{"p":"ED","g":"Low","k":"l","t":100,"s":0.25},{"p":"ED","g":"Low","k":"l","t":125,"s":0.20},{"p":"ED","g":"Low","k":"l","t":150,"s":0.15},{"p":"ED","g":"Low","k":"l","t":175,"s":0.106},{"p":"ED","g":"Low","k":"l","t":227,"s":0.07},{"p":"ED","g":"Low","k":"l","t":250,"s":0.05},{"p":"ED","g":"Low","k":"l","t":271,"s":0.03},{"p":"ED","g":"Low","k":"l","t":300,"s":0.015},{"p":"ED","g":"Low","k":"l","t":375,"s":0.015},
{"p":"ED","g":"High","k":"u","t":0,"s":1},{"p":"ED","g":"High","k":"u","t":8,"s":0.90},{"p":"ED","g":"High","k":"u","t":20,"s":0.76},{"p":"ED","g":"High","k":"u","t":35,"s":0.64},{"p":"ED","g":"High","k":"u","t":50,"s":0.54},{"p":"ED","g":"High","k":"u","t":70,"s":0.45},{"p":"ED","g":"High","k":"u","t":100,"s":0.34},{"p":"ED","g":"High","k":"u","t":125,"s":0.27},{"p":"ED","g":"High","k":"u","t":142,"s":0.23},{"p":"ED","g":"High","k":"u","t":156,"s":0.20},{"p":"ED","g":"High","k":"u","t":167,"s":0.19},{"p":"ED","g":"High","k":"u","t":183,"s":0.16},{"p":"ED","g":"High","k":"u","t":185,"s":0.116},{"p":"ED","g":"High","k":"u","t":210,"s":0.116},
{"p":"ED","g":"High","k":"l","t":0,"s":1},{"p":"ED","g":"High","k":"l","t":8,"s":0.80},{"p":"ED","g":"High","k":"l","t":20,"s":0.60},{"p":"ED","g":"High","k":"l","t":35,"s":0.50},{"p":"ED","g":"High","k":"l","t":50,"s":0.38},{"p":"ED","g":"High","k":"l","t":70,"s":0.32},{"p":"ED","g":"High","k":"l","t":100,"s":0.22},{"p":"ED","g":"High","k":"l","t":125,"s":0.15},{"p":"ED","g":"High","k":"l","t":142,"s":0.11},{"p":"ED","g":"High","k":"l","t":156,"s":0.09},{"p":"ED","g":"High","k":"l","t":167,"s":0.06},{"p":"ED","g":"High","k":"l","t":183,"s":0.03},{"p":"ED","g":"High","k":"l","t":185,"s":0.01},{"p":"ED","g":"High","k":"l","t":210,"s":0.01}
],
"cens": [
{"p":"BO","g":"Low","t":25,"s":0.93},{"p":"BO","g":"Low","t":36,"s":0.81},{"p":"BO","g":"Low","t":44,"s":0.75},{"p":"BO","g":"Low","t":56,"s":0.64},{"p":"BO","g":"Low","t":59,"s":0.64},{"p":"BO","g":"Low","t":75,"s":0.53},{"p":"BO","g":"Low","t":82,"s":0.51},{"p":"BO","g":"Low","t":92,"s":0.49},{"p":"BO","g":"Low","t":118,"s":0.42},{"p":"BO","g":"Low","t":130,"s":0.39},{"p":"BO","g":"Low","t":145,"s":0.36},{"p":"BO","g":"Low","t":160,"s":0.343},{"p":"BO","g":"Low","t":172,"s":0.314},{"p":"BO","g":"Low","t":221,"s":0.227},{"p":"BO","g":"Low","t":226,"s":0.227},{"p":"BO","g":"Low","t":248,"s":0.198},{"p":"BO","g":"Low","t":305,"s":0.097},{"p":"BO","g":"Low","t":377,"s":0.053},
{"p":"BO","g":"High","t":5,"s":1},{"p":"BO","g":"High","t":12,"s":0.99},{"p":"BO","g":"High","t":28,"s":0.76},{"p":"BO","g":"High","t":55,"s":0.594},{"p":"BO","g":"High","t":85,"s":0.50},{"p":"BO","g":"High","t":98,"s":0.483},{"p":"BO","g":"High","t":110,"s":0.445},{"p":"BO","g":"High","t":128,"s":0.40},{"p":"BO","g":"High","t":140,"s":0.372},{"p":"BO","g":"High","t":150,"s":0.355},{"p":"BO","g":"High","t":178,"s":0.237},{"p":"BO","g":"High","t":197,"s":0.237},{"p":"BO","g":"High","t":252,"s":0.126},{"p":"BO","g":"High","t":375,"s":0.063},
{"p":"CO","g":"Low","t":15,"s":0.98},{"p":"CO","g":"Low","t":30,"s":0.74},{"p":"CO","g":"Low","t":60,"s":0.52},{"p":"CO","g":"Low","t":71,"s":0.445},{"p":"CO","g":"Low","t":80,"s":0.425},{"p":"CO","g":"Low","t":95,"s":0.415},{"p":"CO","g":"Low","t":120,"s":0.345},{"p":"CO","g":"Low","t":132,"s":0.315},{"p":"CO","g":"Low","t":150,"s":0.266},{"p":"CO","g":"Low","t":174,"s":0.246},{"p":"CO","g":"Low","t":180,"s":0.226},{"p":"CO","g":"Low","t":225,"s":0.177},{"p":"CO","g":"Low","t":228,"s":0.177},{"p":"CO","g":"Low","t":248,"s":0.177},
{"p":"CO","g":"High","t":20,"s":0.89},{"p":"CO","g":"High","t":27,"s":0.85},{"p":"CO","g":"High","t":40,"s":0.77},{"p":"CO","g":"High","t":55,"s":0.70},{"p":"CO","g":"High","t":70,"s":0.61},{"p":"CO","g":"High","t":80,"s":0.59},{"p":"CO","g":"High","t":90,"s":0.55},{"p":"CO","g":"High","t":132,"s":0.445},{"p":"CO","g":"High","t":138,"s":0.445},{"p":"CO","g":"High","t":150,"s":0.435},{"p":"CO","g":"High","t":165,"s":0.385},{"p":"CO","g":"High","t":194,"s":0.285},{"p":"CO","g":"High","t":200,"s":0.285},{"p":"CO","g":"High","t":225,"s":0.236},{"p":"CO","g":"High","t":255,"s":0.172},{"p":"CO","g":"High","t":308,"s":0.172},{"p":"CO","g":"High","t":375,"s":0.087},
{"p":"EO","g":"Low","t":10,"s":0.99},{"p":"EO","g":"Low","t":25,"s":0.88},{"p":"EO","g":"Low","t":40,"s":0.755},{"p":"EO","g":"Low","t":50,"s":0.71},{"p":"EO","g":"Low","t":57,"s":0.66},{"p":"EO","g":"Low","t":64,"s":0.61},{"p":"EO","g":"Low","t":90,"s":0.51},{"p":"EO","g":"Low","t":95,"s":0.51},{"p":"EO","g":"Low","t":115,"s":0.44},{"p":"EO","g":"Low","t":140,"s":0.39},{"p":"EO","g":"Low","t":145,"s":0.39},{"p":"EO","g":"Low","t":165,"s":0.33},{"p":"EO","g":"Low","t":200,"s":0.27},{"p":"EO","g":"Low","t":226,"s":0.23},{"p":"EO","g":"Low","t":255,"s":0.163},{"p":"EO","g":"Low","t":305,"s":0.107},{"p":"EO","g":"Low","t":375,"s":0.071},
{"p":"EO","g":"High","t":10,"s":0.99},{"p":"EO","g":"High","t":22,"s":0.84},{"p":"EO","g":"High","t":38,"s":0.71},{"p":"EO","g":"High","t":45,"s":0.67},{"p":"EO","g":"High","t":55,"s":0.59},{"p":"EO","g":"High","t":78,"s":0.49},{"p":"EO","g":"High","t":95,"s":0.47},{"p":"EO","g":"High","t":115,"s":0.41},{"p":"EO","g":"High","t":132,"s":0.35},{"p":"EO","g":"High","t":145,"s":0.33},{"p":"EO","g":"High","t":175,"s":0.296},{"p":"EO","g":"High","t":224,"s":0.153},{"p":"EO","g":"High","t":245,"s":0.153},
{"p":"BD","g":"Low","t":26,"s":0.70},{"p":"BD","g":"Low","t":33,"s":0.65},{"p":"BD","g":"Low","t":46,"s":0.54},{"p":"BD","g":"Low","t":63,"s":0.43},{"p":"BD","g":"Low","t":78,"s":0.39},{"p":"BD","g":"Low","t":97,"s":0.32},{"p":"BD","g":"Low","t":118,"s":0.255},{"p":"BD","g":"Low","t":170,"s":0.145},{"p":"BD","g":"Low","t":222,"s":0.11},{"p":"BD","g":"Low","t":305,"s":0.023},
{"p":"BD","g":"High","t":10,"s":0.845},{"p":"BD","g":"High","t":30,"s":0.64},{"p":"BD","g":"High","t":46,"s":0.53},{"p":"BD","g":"High","t":70,"s":0.37},{"p":"BD","g":"High","t":105,"s":0.28},{"p":"BD","g":"High","t":120,"s":0.255},{"p":"BD","g":"High","t":138,"s":0.226},{"p":"BD","g":"High","t":155,"s":0.226},{"p":"BD","g":"High","t":180,"s":0.175},{"p":"BD","g":"High","t":375,"s":0.033},
{"p":"CD","g":"Low","t":20,"s":0.65},{"p":"CD","g":"Low","t":28,"s":0.61},{"p":"CD","g":"Low","t":50,"s":0.42},{"p":"CD","g":"Low","t":60,"s":0.39},{"p":"CD","g":"Low","t":68,"s":0.37},{"p":"CD","g":"Low","t":110,"s":0.22},{"p":"CD","g":"Low","t":130,"s":0.18},{"p":"CD","g":"Low","t":225,"s":0.076},
{"p":"CD","g":"High","t":15,"s":0.77},{"p":"CD","g":"High","t":25,"s":0.73},{"p":"CD","g":"High","t":40,"s":0.575},{"p":"CD","g":"High","t":50,"s":0.53},{"p":"CD","g":"High","t":75,"s":0.39},{"p":"CD","g":"High","t":95,"s":0.35},{"p":"CD","g":"High","t":105,"s":0.33},{"p":"CD","g":"High","t":135,"s":0.26},{"p":"CD","g":"High","t":140,"s":0.26},{"p":"CD","g":"High","t":155,"s":0.23},{"p":"CD","g":"High","t":176,"s":0.19},{"p":"CD","g":"High","t":225,"s":0.14},{"p":"CD","g":"High","t":307,"s":0.071},{"p":"CD","g":"High","t":375,"s":0.034},
{"p":"ED","g":"Low","t":10,"s":0.835},{"p":"ED","g":"Low","t":25,"s":0.675},{"p":"ED","g":"Low","t":35,"s":0.56},{"p":"ED","g":"Low","t":55,"s":0.42},{"p":"ED","g":"Low","t":65,"s":0.40},{"p":"ED","g":"Low","t":90,"s":0.33},{"p":"ED","g":"Low","t":102,"s":0.30},{"p":"ED","g":"Low","t":118,"s":0.28},{"p":"ED","g":"Low","t":135,"s":0.235},{"p":"ED","g":"Low","t":170,"s":0.20},{"p":"ED","g":"Low","t":224,"s":0.17},{"p":"ED","g":"Low","t":228,"s":0.17},{"p":"ED","g":"Low","t":310,"s":0.05},{"p":"ED","g":"Low","t":375,"s":0.05},
{"p":"ED","g":"High","t":15,"s":0.85},{"p":"ED","g":"High","t":30,"s":0.62},{"p":"ED","g":"High","t":55,"s":0.44},{"p":"ED","g":"High","t":60,"s":0.44},{"p":"ED","g":"High","t":75,"s":0.38},{"p":"ED","g":"High","t":95,"s":0.31},{"p":"ED","g":"High","t":122,"s":0.22},{"p":"ED","g":"High","t":128,"s":0.22},{"p":"ED","g":"High","t":175,"s":0.116},{"p":"ED","g":"High","t":180,"s":0.116}
],
"stats": [
{"p":"BO","txt":"Logrank p=0.35\nHR(high)=1.1\np(HR)=0.35\nn(high)=225\nn(low)=220"},
{"p":"CO","txt":"Logrank p=0.0049\nHR(high)=0.68\np(HR)=0.0053\nn(high)=229\nn(low)=229"},
{"p":"EO","txt":"Logrank p=0.2\nHR(high)=1.2\np(HR)=0.2\nn(high)=229\nn(low)=229"},
{"p":"BD","txt":"Logrank p=0.47\nHR(high)=1.1\np(HR)=0.47\nn(high)=225\nn(low)=220"},
{"p":"CD","txt":"Logrank p=0.098\nHR(high)=0.82\np(HR)=0.099\nn(high)=229\nn(low)=229"},
{"p":"ED","txt":"Logrank p=0.7\nHR(high)=1\np(HR)=0.71\nn(high)=229\nn(low)=229"}
]
},
"config": {
"font": "Liberation Sans",
"view": {"stroke": "#333333", "strokeWidth": 1},
"axis": {"grid": false, "domain": false, "tickColor": "#333333", "tickSize": 6, "labelFont": "Liberation Sans", "labelFontSize": 13, "labelColor": "#111111", "labelFlush": false, "titleFont": "Liberation Sans", "titleFontWeight": "normal", "titleColor": "#111111"},
"axisX": {"labelPadding": 19, "titlePadding": 12, "titleFontSize": 18, "labelAngle": 0},
"axisY": {"labelAngle": -90, "labelAlign": "center", "labelBaseline": "bottom", "labelPadding": 11, "titlePadding": 10, "titleFontSize": 19},
"legend": {"orient": "top-right", "offset": 8, "padding": 0, "symbolType": "M-1.8,0H1.8", "symbolSize": 196, "symbolStrokeWidth": 2.5, "symbolOpacity": 1, "labelFont": "Liberation Sans", "labelFontSize": 14, "labelColor": "#111111", "labelOffset": 10, "rowPadding": 0},
"title": {"font": "Liberation Sans", "fontSize": 19, "fontWeight": "normal", "color": "#111111", "offset": 4, "anchor": "middle"}
},
"spacing": 22,
"resolve": {"scale": {"color": "independent", "x": "independent", "y": "independent"}, "legend": {"color": "independent"}},
"hconcat": [
{
"title": {"text": "TFAP2B ISOFORM", "font": "DejaVu Sans Condensed, DejaVu Sans", "fontSize": 34, "fontWeight": "bold", "color": "#000000", "offset": 22, "dx": 37, "anchor": "middle"},
"spacing": 26,
"resolve": {"scale": {"color": "independent", "x": "independent", "y": "independent"}, "legend": {"color": "independent"}},
"vconcat": [
{"width": 320, "height": 372, "title": "Overall Survival",
"layer": [
{"data": {"name": "km"}, "transform": [{"filter": "datum.p == 'BO' && datum.k != 'e'"}], "mark": {"type": "line", "interpolate": "step-after", "strokeWidth": 1, "strokeDash": [2, 2], "opacity": 0.5},
"encoding": {"x": {"field": "t", "type": "quantitative", "scale": {"domain": [0, 390], "nice": false, "zero": false}, "axis": {"values": [0, 100, 200, 300], "title": "Months"}}, "y": {"field": "s", "type": "quantitative", "scale": {"domain": [-0.04, 1.04], "nice": false}, "axis": {"values": [0, 0.2, 0.4, 0.6, 0.8, 1], "format": ".1f", "title": "Percent survival"}}, "color": {"field": "g", "type": "nominal", "scale": {"domain": ["Low", "High"], "range": ["#2236F0", "#EE3A30"]}}, "detail": {"field": "k"}}},
{"data": {"name": "km"}, "transform": [{"filter": "datum.p == 'BO' && datum.k == 'e'"}], "mark": {"type": "line", "interpolate": "step-after", "strokeWidth": 2},
"encoding": {"x": {"field": "t", "type": "quantitative"}, "y": {"field": "s", "type": "quantitative"}, "color": {"field": "g", "type": "nominal", "legend": {"title": null, "labelExpr": "datum.label + ' TFAP2B TPM'"}}}},
{"data": {"name": "cens"}, "transform": [{"filter": "datum.p == 'BO'"}], "mark": {"type": "point", "shape": "M-1,0L1,0M0,-1L0,1", "size": 50, "filled": false, "strokeWidth": 1.2, "opacity": 1},
"encoding": {"x": {"field": "t", "type": "quantitative"}, "y": {"field": "s", "type": "quantitative"}, "color": {"field": "g", "type": "nominal"}}},
{"data": {"name": "stats"}, "transform": [{"filter": "datum.p == 'BO'"}], "mark": {"type": "text", "align": "right", "baseline": "top", "lineBreak": "\n", "fontSize": 13, "lineHeight": 19, "font": "Liberation Sans", "color": "#111111"},
"encoding": {"x": {"datum": 381}, "y": {"datum": 0.905}, "text": {"field": "txt"}}}
]},
{"width": 320, "height": 356, "title": "Disease Free Survival",
"layer": [
{"data": {"name": "km"}, "transform": [{"filter": "datum.p == 'BD' && datum.k != 'e'"}], "mark": {"type": "line", "interpolate": "step-after", "strokeWidth": 1, "strokeDash": [2, 2], "opacity": 0.5},
"encoding": {"x": {"field": "t", "type": "quantitative", "scale": {"domain": [0, 390], "nice": false, "zero": false}, "axis": {"values": [0, 100, 200, 300], "title": "Months"}}, "y": {"field": "s", "type": "quantitative", "scale": {"domain": [-0.04, 1.04], "nice": false}, "axis": {"values": [0, 0.2, 0.4, 0.6, 0.8, 1], "format": ".1f", "title": "Percent survival"}}, "color": {"field": "g", "type": "nominal", "scale": {"domain": ["Low", "High"], "range": ["#2236F0", "#EE3A30"]}}, "detail": {"field": "k"}}},
{"data": {"name": "km"}, "transform": [{"filter": "datum.p == 'BD' && datum.k == 'e'"}], "mark": {"type": "line", "interpolate": "step-after", "strokeWidth": 2},
"encoding": {"x": {"field": "t", "type": "quantitative"}, "y": {"field": "s", "type": "quantitative"}, "color": {"field": "g", "type": "nominal", "legend": {"title": null, "labelExpr": "datum.label + ' TFAP2B TPM'"}}}},
{"data": {"name": "cens"}, "transform": [{"filter": "datum.p == 'BD'"}], "mark": {"type": "point", "shape": "M-1,0L1,0M0,-1L0,1", "size": 50, "filled": false, "strokeWidth": 1.2, "opacity": 1},
"encoding": {"x": {"field": "t", "type": "quantitative"}, "y": {"field": "s", "type": "quantitative"}, "color": {"field": "g", "type": "nominal"}}},
{"data": {"name": "stats"}, "transform": [{"filter": "datum.p == 'BD'"}], "mark": {"type": "text", "align": "right", "baseline": "top", "lineBreak": "\n", "fontSize": 13, "lineHeight": 19, "font": "Liberation Sans", "color": "#111111"},
"encoding": {"x": {"datum": 381}, "y": {"datum": 0.905}, "text": {"field": "txt"}}}
]}
]
},
{
"title": {"text": "TFAP2C ISOFORM", "font": "DejaVu Sans Condensed, DejaVu Sans", "fontSize": 34, "fontWeight": "bold", "color": "#000000", "offset": 28, "dx": 43, "anchor": "middle"},
"spacing": 34,
"resolve": {"scale": {"color": "independent", "x": "independent", "y": "independent"}, "legend": {"color": "independent"}},
"vconcat": [
{"width": 322, "height": 365, "title": "Overall Survival",
"layer": [
{"data": {"name": "km"}, "transform": [{"filter": "datum.p == 'CO' && datum.k != 'e'"}], "mark": {"type": "line", "interpolate": "step-after", "strokeWidth": 1, "strokeDash": [2, 2], "opacity": 0.5},
"encoding": {"x": {"field": "t", "type": "quantitative", "scale": {"domain": [0, 390], "nice": false, "zero": false}, "axis": {"values": [0, 100, 200, 300], "title": "Months"}}, "y": {"field": "s", "type": "quantitative", "scale": {"domain": [-0.04, 1.04], "nice": false}, "axis": {"values": [0, 0.2, 0.4, 0.6, 0.8, 1], "format": ".1f", "title": "Percent survival"}}, "color": {"field": "g", "type": "nominal", "scale": {"domain": ["Low", "High"], "range": ["#2236F0", "#EE3A30"]}}, "detail": {"field": "k"}}},
{"data": {"name": "km"}, "transform": [{"filter": "datum.p == 'CO' && datum.k == 'e'"}], "mark": {"type": "line", "interpolate": "step-after", "strokeWidth": 2},
"encoding": {"x": {"field": "t", "type": "quantitative"}, "y": {"field": "s", "type": "quantitative"}, "color": {"field": "g", "type": "nominal", "legend": {"title": null, "labelExpr": "datum.label + ' TFAP2C TPM'"}}}},
{"data": {"name": "cens"}, "transform": [{"filter": "datum.p == 'CO'"}], "mark": {"type": "point", "shape": "M-1,0L1,0M0,-1L0,1", "size": 50, "filled": false, "strokeWidth": 1.2, "opacity": 1},
"encoding": {"x": {"field": "t", "type": "quantitative"}, "y": {"field": "s", "type": "quantitative"}, "color": {"field": "g", "type": "nominal"}}},
{"data": {"name": "stats"}, "transform": [{"filter": "datum.p == 'CO'"}], "mark": {"type": "text", "align": "right", "baseline": "top", "lineBreak": "\n", "fontSize": 13, "lineHeight": 19, "font": "Liberation Sans", "color": "#111111"},
"encoding": {"x": {"datum": 381}, "y": {"datum": 0.905}, "text": {"field": "txt"}}}
]},
{"width": 322, "height": 363, "title": "Disease Free Survival",
"layer": [
{"data": {"name": "km"}, "transform": [{"filter": "datum.p == 'CD' && datum.k != 'e'"}], "mark": {"type": "line", "interpolate": "step-after", "strokeWidth": 1, "strokeDash": [2, 2], "opacity": 0.5},
"encoding": {"x": {"field": "t", "type": "quantitative", "scale": {"domain": [0, 390], "nice": false, "zero": false}, "axis": {"values": [0, 100, 200, 300], "title": "Months"}}, "y": {"field": "s", "type": "quantitative", "scale": {"domain": [-0.04, 1.04], "nice": false}, "axis": {"values": [0, 0.2, 0.4, 0.6, 0.8, 1], "format": ".1f", "title": "Percent survival"}}, "color": {"field": "g", "type": "nominal", "scale": {"domain": ["Low", "High"], "range": ["#2236F0", "#EE3A30"]}}, "detail": {"field": "k"}}},
{"data": {"name": "km"}, "transform": [{"filter": "datum.p == 'CD' && datum.k == 'e'"}], "mark": {"type": "line", "interpolate": "step-after", "strokeWidth": 2},
"encoding": {"x": {"field": "t", "type": "quantitative"}, "y": {"field": "s", "type": "quantitative"}, "color": {"field": "g", "type": "nominal", "legend": {"title": null, "labelExpr": "datum.label + ' TFAP2C TPM'"}}}},
{"data": {"name": "cens"}, "transform": [{"filter": "datum.p == 'CD'"}], "mark": {"type": "point", "shape": "M-1,0L1,0M0,-1L0,1", "size": 50, "filled": false, "strokeWidth": 1.2, "opacity": 1},
"encoding": {"x": {"field": "t", "type": "quantitative"}, "y": {"field": "s", "type": "quantitative"}, "color": {"field": "g", "type": "nominal"}}},
{"data": {"name": "stats"}, "transform": [{"filter": "datum.p == 'CD'"}], "mark": {"type": "text", "align": "right", "baseline": "top", "lineBreak": "\n", "fontSize": 13, "lineHeight": 19, "font": "Liberation Sans", "color": "#111111"},
"encoding": {"x": {"datum": 381}, "y": {"datum": 0.905}, "text": {"field": "txt"}}}
]}
]
},
{
"title": {"text": "TFAP2E ISOFORM", "font": "DejaVu Sans Condensed, DejaVu Sans", "fontSize": 34, "fontWeight": "bold", "color": "#000000", "offset": 22, "dx": 33, "anchor": "middle"},
"spacing": 42,
"resolve": {"scale": {"color": "independent", "x": "independent", "y": "independent"}, "legend": {"color": "independent"}},
"vconcat": [
{"width": 318, "height": 354, "title": "Overall Survival",
"layer": [
{"data": {"name": "km"}, "transform": [{"filter": "datum.p == 'EO' && datum.k != 'e'"}], "mark": {"type": "line", "interpolate": "step-after", "strokeWidth": 1, "strokeDash": [2, 2], "opacity": 0.5},
"encoding": {"x": {"field": "t", "type": "quantitative", "scale": {"domain": [0, 390], "nice": false, "zero": false}, "axis": {"values": [0, 100, 200, 300], "title": "Months"}}, "y": {"field": "s", "type": "quantitative", "scale": {"domain": [-0.04, 1.04], "nice": false}, "axis": {"values": [0, 0.2, 0.4, 0.6, 0.8, 1], "format": ".1f", "title": "Percent survival"}}, "color": {"field": "g", "type": "nominal", "scale": {"domain": ["Low", "High"], "range": ["#2236F0", "#EE3A30"]}}, "detail": {"field": "k"}}},
{"data": {"name": "km"}, "transform": [{"filter": "datum.p == 'EO' && datum.k == 'e'"}], "mark": {"type": "line", "interpolate": "step-after", "strokeWidth": 2},
"encoding": {"x": {"field": "t", "type": "quantitative"}, "y": {"field": "s", "type": "quantitative"}, "color": {"field": "g", "type": "nominal", "legend": {"title": null, "labelExpr": "datum.label + ' TFAP2E TPM'"}}}},
{"data": {"name": "cens"}, "transform": [{"filter": "datum.p == 'EO'"}], "mark": {"type": "point", "shape": "M-1,0L1,0M0,-1L0,1", "size": 50, "filled": false, "strokeWidth": 1.2, "opacity": 1},
"encoding": {"x": {"field": "t", "type": "quantitative"}, "y": {"field": "s", "type": "quantitative"}, "color": {"field": "g", "type": "nominal"}}},
{"data": {"name": "stats"}, "transform": [{"filter": "datum.p == 'EO'"}], "mark": {"type": "text", "align": "right", "baseline": "top", "lineBreak": "\n", "fontSize": 13, "lineHeight": 19, "font": "Liberation Sans", "color": "#111111"},
"encoding": {"x": {"datum": 381}, "y": {"datum": 0.905}, "text": {"field": "txt"}}}
]},
{"width": 318, "height": 358, "title": "Disease Free Survival",
"layer": [
{"data": {"name": "km"}, "transform": [{"filter": "datum.p == 'ED' && datum.k != 'e'"}], "mark": {"type": "line", "interpolate": "step-after", "strokeWidth": 1, "strokeDash": [2, 2], "opacity": 0.5},
"encoding": {"x": {"field": "t", "type": "quantitative", "scale": {"domain": [0, 390], "nice": false, "zero": false}, "axis": {"values": [0, 100, 200, 300], "title": "Months"}}, "y": {"field": "s", "type": "quantitative", "scale": {"domain": [-0.04, 1.04], "nice": false}, "axis": {"values": [0, 0.2, 0.4, 0.6, 0.8, 1], "format": ".1f", "title": "Percent survival"}}, "color": {"field": "g", "type": "nominal", "scale": {"domain": ["Low", "High"], "range": ["#2236F0", "#EE3A30"]}}, "detail": {"field": "k"}}},
{"data": {"name": "km"}, "transform": [{"filter": "datum.p == 'ED' && datum.k == 'e'"}], "mark": {"type": "line", "interpolate": "step-after", "strokeWidth": 2},
"encoding": {"x": {"field": "t", "type": "quantitative"}, "y": {"field": "s", "type": "quantitative"}, "color": {"field": "g", "type": "nominal", "legend": {"title": null, "labelExpr": "datum.label + ' TFAP2E TPM'"}}}},
{"data": {"name": "cens"}, "transform": [{"filter": "datum.p == 'ED'"}], "mark": {"type": "point", "shape": "M-1,0L1,0M0,-1L0,1", "size": 50, "filled": false, "strokeWidth": 1.2, "opacity": 1},
"encoding": {"x": {"field": "t", "type": "quantitative"}, "y": {"field": "s", "type": "quantitative"}, "color": {"field": "g", "type": "nominal"}}},
{"data": {"name": "stats"}, "transform": [{"filter": "datum.p == 'ED'"}], "mark": {"type": "text", "align": "right", "baseline": "top", "lineBreak": "\n", "fontSize": 13, "lineHeight": 19, "font": "Liberation Sans", "color": "#111111"},
"encoding": {"x": {"datum": 381}, "y": {"datum": 0.905}, "text": {"field": "txt"}}}
]}
]
}
]
}
